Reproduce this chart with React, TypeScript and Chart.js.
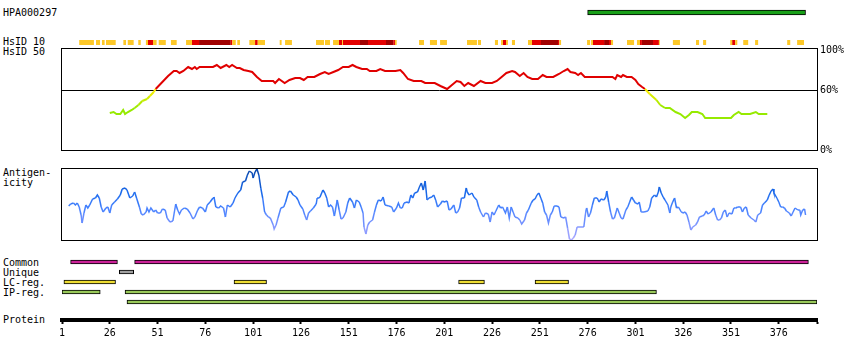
import React, { useEffect, useRef } from 'react';
import { Chart, registerables } from 'chart.js';

Chart.register(...registerables);

const FONT_FAMILY = '"DejaVu Sans Mono", "Liberation Mono", monospace';

// ---------- data ----------
const RESIDUE_MIN = 1;
const RESIDUE_MAX = 396;

const ANTIGEN_RANGES: [number, number][] = [[276, 390]];

// HsID 10 identity strip (residue ranges), three identity levels
const HSID10_LOW: [number, number][] = [
  [10, 17.7], [18.8, 20.9], [21.9, 23.3], [24, 29.1], [33.1, 34.5], [35.4, 38.5], [40.9, 42.2],
  [44.9, 46], [48.6, 50.5], [51.6, 55.3], [58, 61], [65.9, 69], [90.1, 91.9], [92.7, 94.1],
  [99, 102], [103.4, 107.2], [114.9, 115.9], [117.7, 121.3], [133.9, 138.1], [138.6, 141.2],
  [142.8, 145.9], [147.5, 148], [175.2, 176.1], [187.8, 190.4], [193.5, 197.2], [198.8, 202.4],
  [212.9, 218.1], [218.6, 220.2], [227.5, 229.1], [230.7, 231.7], [233.3, 234.3], [236.4, 238],
  [244.8, 246.9], [261.2, 262.1], [275.7, 277.3], [277.8, 278.8], [288.2, 289.3], [296.6, 300.3],
  [301.8, 303.4], [313.3, 313.8], [320.6, 324.3], [332.7, 334.3], [336.4, 338], [350.6, 351.6],
  [353.2, 354.3], [357.4, 360], [363.6, 365.2], [380.4, 382], [385.6, 389.2],
];
const HSID10_MID: [number, number][] = [
  [46, 48.6], [69, 72.7], [89.3, 90.1], [102, 103.4], [145.9, 147.5], [148, 156.9], [161.1, 170.5],
  [174.3, 175.2], [231.7, 233.3], [246.9, 251.6], [260.5, 261.2], [278.8, 284.6], [287.2, 288.2],
  [303.4, 304.4], [310.2, 313.3], [351.6, 353.2],
];
const HSID10_HIGH: [number, number][] = [
  [72.7, 89.3], [156.9, 161.1], [170.5, 174.3], [251.6, 260.5], [284.6, 287.2], [304.4, 310.2],
];

// HsID 50 identity (% ) per residue position
const HSID50_POS = [
  26, 28, 29.5, 31.5, 33, 34, 35.5, 37.5, 39, 41, 43, 45.5, 47, 49, 50, 53, 56.5, 59.5, 61, 62.5,
  64.5, 67, 69, 70.5, 71.5, 73, 77, 80, 82, 84, 87, 88.5, 90, 92.5, 94, 96, 98.5, 100.5, 103, 105.5,
  108, 111.5, 112.5, 114.5, 117.5, 120, 123, 125.5, 127.5, 129.5, 133, 136, 138.5, 140.5, 143, 145.5,
  148, 151, 153, 155, 158, 160.5, 162, 165.5, 167.5, 170, 175.5, 178, 179.5, 182, 185, 189, 191, 196,
  199, 202.5, 205, 207.5, 209.5, 211.5, 213.5, 216.5, 220, 222.5, 226, 228.5, 231, 233.5, 236.5, 238,
  240.5, 242.5, 244.5, 247, 250, 252.5, 254.5, 258, 261, 263.5, 265.5, 267, 269.5, 271, 272.5, 274.5,
  279, 286, 289, 290.5, 291.5, 293.5, 294.5, 296.5, 299, 301, 302.5, 304.5, 306, 308.5, 312, 314,
  316.5, 319, 322, 324.5, 327, 329, 330.5, 333.5, 336, 337.5, 345, 351, 352.5, 355, 356.5, 361, 364,
  365.5, 370,
];
const HSID50_VAL = [
  37, 38, 36, 36, 40, 36, 38, 40, 42, 45, 49, 51, 54, 58, 61, 67, 74, 79, 79, 77,
  79, 83, 81, 83, 81, 83, 83, 83, 85, 82, 85, 83, 85, 82, 82, 80, 79, 78, 73, 69,
  69, 69, 67, 71, 67, 70, 72, 72, 70, 73, 73, 76, 78, 76, 78, 80,
  83, 83, 85, 83, 81, 81, 79, 79, 81, 79, 79, 80, 77, 71, 69, 69, 67, 67,
  64, 61, 65, 69, 68, 64, 67, 64, 69, 67, 67, 69, 73, 77, 79, 78,
  74, 77, 73, 71, 71, 75, 73, 73, 76, 79, 81, 78, 77, 75, 77, 73,
  73, 73, 73, 71, 75, 73, 75, 73, 73, 70, 66, 63, 61, 56, 50, 45,
  42, 42, 38, 36, 32, 35, 38, 38, 36, 32, 32, 32, 35, 38, 36, 36, 38,
  36, 36,
];

// Antigenicity score (arbitrary units, 0-72) per residue position
const ANTIGENICITY_POS = [
  4.5, 5.5, 7, 8, 9, 10, 11, 11.5, 12.5, 13.5, 14.5, 15.5, 17, 18.5, 19.5, 20.5, 21.5, 22.5, 24, 25,
  26, 27, 28.5, 30, 31.5, 32.5, 34, 35, 36.5, 38, 39, 40, 41.5, 42.5, 43.5, 45, 45.5, 46.5, 47.5, 49,
  50, 51, 52.5, 53.5, 55, 56, 57.5, 59, 60.5, 61.5, 62.5, 63.5, 65, 66.5, 68, 69.5, 70.5, 72, 73, 74.5,
  76, 77, 78.5, 80, 80.5, 81.5, 83, 84, 85.5, 86.5, 87.5, 89, 90.5, 91.5, 93, 94.5, 95.5, 97, 98, 99,
  100.5, 101, 102, 103, 104, 105, 106, 107, 108, 109, 110, 111.5, 112, 113, 114, 115.5, 117, 118, 119.5, 120.5,
  122, 123.5, 124.5, 125.5, 127, 128, 129, 130, 131, 132.5, 134, 134.5, 135.5, 136, 137.5, 138.5, 139.5, 140.5, 141.5, 142.5,
  143.5, 145, 146, 147, 148, 149.5, 150.5, 151.5, 153, 154, 155, 156.5, 157.5, 158.5, 159, 160, 161, 162, 163.5, 164.5,
  165.5, 166.5, 168, 169, 170, 172, 173.5, 174.5, 176, 177, 178, 179, 180, 181.5, 182.5, 183.5, 184.5, 185.5, 187, 188,
  189, 190, 191, 192, 193, 194.5, 195.5, 196.5, 197.5, 199, 200, 201, 202.5, 203.5, 204.5, 206, 207, 208, 209, 210,
  211.5, 212.5, 213, 214, 215.5, 216.5, 218, 219, 220, 221.5, 222.5, 224, 225, 226, 227, 228, 229.5, 230.5, 231.5, 233,
  234, 235, 236, 237, 238, 239.5, 240.5, 241.5, 243, 244, 245, 246.5, 247.5, 248.5, 249.5, 250.5, 251.5, 252.5, 253.5, 254.5,
  255.5, 256.5, 257.5, 258.5, 260, 261, 262, 263.5, 264.5, 265.5, 266.5, 267.5, 268.5, 269.5, 270.5, 271.5, 273, 274, 275, 275.5,
  276.5, 277.5, 278.5, 279.5, 281, 282, 283, 284.5, 285.5, 286, 287, 288, 289, 290, 291.5, 292.5, 293.5, 294.5, 296, 297,
  298, 299, 300, 301, 302.5, 303, 304, 305.5, 307.5, 308.5, 309.5, 311, 312, 313, 313.5, 314.5, 315.5, 316.5, 318, 319,
  319.5, 320.5, 321.5, 322.5, 323.5, 325, 326, 327, 328, 329, 330, 331, 332.5, 333.5, 334.5, 336, 337, 338, 339, 340.5,
  342, 343, 344, 345, 346, 347, 348, 349, 350, 351.5, 352.5, 353.5, 354.5, 356, 357, 358, 359, 360, 361.5, 363,
  364, 365, 366.5, 367.5, 368.5, 370, 371, 372, 373, 373.5, 375, 376, 377, 378, 379, 380, 381.5, 382.5, 383.5, 384.5,
  386, 387, 387.5, 388.5, 389.5, 390,
];
const ANTIGENICITY_VAL = [
  34, 36, 37, 35, 37, 33, 25, 17, 27, 35, 32, 35, 41, 42, 45, 42, 33, 28, 32, 33,
  27, 35, 38, 41, 45, 51, 52, 50, 42, 44, 48, 42, 33, 26, 25, 28, 32, 28, 32, 28,
  30, 27, 27, 31, 30, 22, 18, 19, 36, 30, 26, 30, 32, 31, 27, 21, 23, 30, 33, 32,
  28, 35, 38, 42, 43, 33, 32, 34, 32, 23, 35, 33, 37, 42, 47, 50, 58, 59, 65, 69,
  67, 62, 68, 71, 65, 52, 42, 28, 25, 23, 22, 15, 11, 15, 22, 32, 33, 38, 48, 49,
  45, 43, 40, 35, 31, 25, 20, 27, 29, 32, 36, 42, 42, 43, 50, 47, 42, 33, 35, 33,
  24, 40, 30, 21, 22, 28, 37, 42, 38, 32, 40, 38, 33, 27, 13, 6, 15, 18, 20, 28,
  35, 40, 39, 43, 35, 34, 33, 28, 32, 37, 32, 32, 37, 38, 37, 45, 42, 47, 48, 53,
  57, 50, 59, 40, 42, 43, 45, 40, 33, 36, 39, 38, 39, 30, 31, 35, 27, 28, 32, 42,
  42, 52, 48, 45, 47, 43, 40, 33, 28, 23, 27, 26, 18, 28, 25, 29, 35, 32, 33, 27,
  33, 22, 33, 28, 23, 22, 20, 16, 20, 27, 30, 37, 40, 41, 45, 47, 42, 37, 28, 25,
  17, 25, 28, 34, 34, 33, 23, 22, 23, 12, 1, 0, 2, 5, 13, 13, 13, 13, 28, 32,
  23, 27, 35, 42, 42, 38, 41, 40, 43, 49, 38, 28, 21, 22, 32, 27, 22, 21, 30, 33,
  38, 43, 40, 37, 36, 38, 28, 28, 29, 33, 42, 45, 43, 48, 53, 47, 43, 40, 35, 27,
  33, 38, 42, 32, 33, 28, 27, 28, 25, 18, 10, 13, 15, 18, 23, 24, 25, 29, 26, 28,
  32, 25, 20, 20, 22, 28, 30, 23, 27, 26, 32, 32, 33, 33, 28, 32, 33, 25, 22, 20,
  18, 25, 27, 35, 37, 40, 45, 49, 51, 47, 42, 38, 33, 33, 32, 29, 27, 24, 28, 32,
  30, 30, 25, 30, 31, 25,
];

// Feature rows
const FEATURE_ROWS = ['Common', 'Unique', 'LC-reg.', 'IP-reg.', 'IP-reg. all'];
const COMMON_RANGES: [number, number][] = [[5.5, 30], [39, 391.5]];
const UNIQUE_RANGES: [number, number][] = [[31, 38.5]];
const LC_RANGES: [number, number][] = [[2, 29], [91, 108], [208.5, 222], [248.5, 266]];
const IP_RANGES: [number, number][] = [[1, 21], [34, 312]];
const IP_ALL_RANGES: [number, number][] = [[35, 396]];

const PROTEIN_TICKS = [1, 26, 51, 76, 101, 126, 151, 176, 201, 226, 251, 276, 301, 326, 351, 376, 396];
const IDENTITY_TICKS = [0, 60, 100];

const LEFT_LABELS: { text: string; y: number }[] = [
  { text: 'HPA000297', y: 13 },
  { text: 'HsID 10', y: 42 },
  { text: 'HsID 50', y: 51.5 },
  { text: 'Antigen-', y: 172.5 },
  { text: 'icity', y: 183 },
  { text: 'Common', y: 262.5 },
  { text: 'Unique', y: 272.5 },
  { text: 'LC-reg.', y: 282.5 },
  { text: 'IP-reg.', y: 292.5 },
  { text: 'Protein', y: 319.5 },
];

// ---------- helpers ----------
const W = 850;
const H = 360;
const PLOT_LEFT = 62;
const PLOT_RIGHT = 817;

function mix(a: number[], b: number[], t: number) {
  const c = a.map((v, i) => Math.round(v + (b[i] - v) * t));
  return `rgb(${c[0]},${c[1]},${c[2]})`;
}

function identityColor(v: number) {
  if (v >= 60) return '#e00000';
  const t = Math.max(0, Math.min(1, (60 - v) / 18));
  return mix([255, 238, 0], [150, 234, 0], t);
}

const ANTI_STOPS: [number, number[]][] = [
  [0, [175, 170, 255]],
  [18, [115, 145, 255]],
  [32, [70, 130, 255]],
  [48, [25, 105, 235]],
  [70, [8, 70, 170]],
];
function antigenColor(v: number) {
  if (v <= ANTI_STOPS[0][0]) return mix(ANTI_STOPS[0][1], ANTI_STOPS[0][1], 0);
  for (let i = 1; i < ANTI_STOPS.length; i++) {
    if (v <= ANTI_STOPS[i][0]) {
      const [a, ca] = ANTI_STOPS[i - 1];
      const [b, cb] = ANTI_STOPS[i];
      return mix(ca, cb, (v - a) / (b - a));
    }
  }
  const last = ANTI_STOPS[ANTI_STOPS.length - 1][1];
  return mix(last, last, 0);
}

const framePlugin = {
  id: 'frame',
  afterDraw(chart: any) {
    const { ctx, chartArea } = chart;
    const { left, top, right, bottom } = chartArea;
    ctx.save();
    ctx.strokeStyle = '#000';
    ctx.lineWidth = 1;
    ctx.strokeRect(Math.round(left) - 0.5, Math.round(top) + 0.5, Math.round(right - left) + 1, Math.round(bottom - top));
    ctx.restore();
  },
};

function baseOptions(top: number, bottom: number, right = W - PLOT_RIGHT) {
  return {
    responsive: false,
    animation: false as const,
    devicePixelRatio: 1,
    events: [] as any[],
    layout: { padding: { left: PLOT_LEFT, right, top, bottom: H - bottom } },
    plugins: { legend: { display: false }, tooltip: { enabled: false }, title: { display: false } },
  };
}

const residueScale = { type: 'linear', min: RESIDUE_MIN, max: RESIDUE_MAX, display: false };

function rangeBars(ranges: [number, number][], row: string) {
  return ranges.map(([s, e]) => ({ x: [s, e], y: row }));
}

// ---------- chart configs ----------
function antigenConfig(): any {
  return {
    type: 'bar',
    data: {
      labels: ['antigen'],
      datasets: [{
        data: rangeBars(ANTIGEN_RANGES, 'antigen'),
        backgroundColor: '#18a018', borderColor: '#000', borderWidth: 1, borderSkipped: false,
        barThickness: 5, grouped: false,
      }],
    },
    options: {
      ...baseOptions(2, 23), indexAxis: 'y',
      scales: { x: residueScale, y: { type: 'category', display: false } },
    },
  };
}

function hsid10Config(): any {
  const ds = (ranges: [number, number][], color: string) => ({
    data: rangeBars(ranges, 'hsid10'), backgroundColor: color, borderWidth: 0,
    barThickness: 5, grouped: false, inflateAmount: 0,
  });
  return {
    type: 'bar',
    data: {
      labels: ['hsid10'],
      datasets: [ds(HSID10_LOW, '#fdc828'), ds(HSID10_MID, '#e40000'), ds(HSID10_HIGH, '#a00000')],
    },
    options: {
      ...baseOptions(40, 45), indexAxis: 'y',
      scales: { x: residueScale, y: { type: 'category', display: false } },
    },
  };
}

function hsid50Config(): any {
  return {
    type: 'line',
    data: {
      datasets: [{
        data: HSID50_POS.map((x, i) => ({ x, y: HSID50_VAL[i] })),
        borderWidth: 2, pointRadius: 0, borderColor: '#e00000', tension: 0,
        segment: { borderColor: (c: any) => identityColor((c.p0.parsed.y + c.p1.parsed.y) / 2) },
      }],
    },
    options: {
      ...baseOptions(48, 150, 0),
      scales: {
        x: residueScale,
        y: {
          type: 'linear', position: 'right', min: 0, max: 102,
          afterFit: (s: any) => { s.width = W - PLOT_RIGHT; },
          afterBuildTicks: (s: any) => { s.ticks = IDENTITY_TICKS.map((value) => ({ value })); },
          border: { display: false },
          grid: {
            drawTicks: false, lineWidth: 1,
            color: (c: any) => (c.tick && c.tick.value === 60 ? '#000' : 'rgba(0,0,0,0)'),
          },
          ticks: {
            padding: 3, color: '#000', font: { family: FONT_FAMILY, size: 10 },
            callback: (v: any) => `${v}%`,
          },
        },
      },
    },
    plugins: [framePlugin],
  };
}

function antigenicityConfig(): any {
  return {
    type: 'line',
    data: {
      datasets: [{
        data: ANTIGENICITY_POS.map((x, i) => ({ x, y: ANTIGENICITY_VAL[i] })),
        borderWidth: 1.5, pointRadius: 0, borderColor: '#3377ee', tension: 0,
        segment: { borderColor: (c: any) => antigenColor((c.p0.parsed.y + c.p1.parsed.y) / 2) },
      }],
    },
    options: {
      ...baseOptions(168, 240),
      scales: { x: residueScale, y: { type: 'linear', min: 0, max: 72, display: false } },
    },
    plugins: [framePlugin],
  };
}

function featuresConfig(): any {
  const ds = (ranges: [number, number][], row: string, color: string) => ({
    data: rangeBars(ranges, row), backgroundColor: color, borderColor: '#000', borderWidth: 1,
    borderSkipped: false, barThickness: 4, grouped: false,
  });
  return {
    type: 'bar',
    data: {
      labels: FEATURE_ROWS,
      datasets: [
        ds(COMMON_RANGES, FEATURE_ROWS[0], '#cc2299'),
        ds(UNIQUE_RANGES, FEATURE_ROWS[1], '#a0a0a0'),
        ds(LC_RANGES, FEATURE_ROWS[2], '#eedd33'),
        ds(IP_RANGES, FEATURE_ROWS[3], '#99c95a'),
        ds(IP_ALL_RANGES, FEATURE_ROWS[4], '#99c95a'),
      ],
    },
    options: {
      ...baseOptions(257, 307), indexAxis: 'y',
      scales: { x: residueScale, y: { type: 'category', display: false } },
    },
  };
}

function proteinAxisConfig(): any {
  return {
    type: 'scatter',
    data: { datasets: [{ data: [] as any[] }] },
    options: {
      ...baseOptions(300, 360),
      scales: {
        x: {
          type: 'linear', position: 'bottom', min: RESIDUE_MIN, max: RESIDUE_MAX,
          afterFit: (s: any) => { s.height = 40; },
          afterBuildTicks: (s: any) => { s.ticks = PROTEIN_TICKS.map((value) => ({ value })); },
          border: { display: true, color: '#000', width: 4 },
          grid: { display: true, drawOnChartArea: false, drawTicks: true, tickLength: 4, tickWidth: 2, tickColor: '#000' },
          ticks: {
            padding: 3, color: '#000', autoSkip: false, maxRotation: 0,
            font: { family: FONT_FAMILY, size: 10 },
            callback: (v: any) => (v === RESIDUE_MAX ? '' : String(v)),
          },
        },
        y: { type: 'linear', display: false, min: 0, max: 1 },
      },
    },
  };
}

function ChartLayer({ make }: { make: () => any }) {
  const ref = useRef<HTMLCanvasElement>(null);
  useEffect(() => {
    const chart = new Chart(ref.current as HTMLCanvasElement, make());
    return () => chart.destroy();
  }, [make]);
  return (
    <canvas
      ref={ref}
      width={W}
      height={H}
      style={{ position: 'absolute', left: 0, top: 0, width: W, height: H }}
    />
  );
}

export default function App() {
  return (
    <div style={{ position: 'absolute', left: 0, top: 0, width: W, height: H, background: '#fff', overflow: 'hidden' }}>
      {LEFT_LABELS.map((l) => (
        <div
          key={l.text}
          style={{
            position: 'absolute', left: 3, top: l.y - 6, fontFamily: FONT_FAMILY, fontSize: 10,
            lineHeight: '12px', color: '#000', whiteSpace: 'pre',
          }}
        >
          {l.text}
        </div>
      ))}
      <ChartLayer make={antigenConfig} />
      <ChartLayer make={hsid10Config} />
      <ChartLayer make={hsid50Config} />
      <ChartLayer make={antigenicityConfig} />
      <ChartLayer make={featuresConfig} />
      <ChartLayer make={proteinAxisConfig} />
    </div>
  );
}
